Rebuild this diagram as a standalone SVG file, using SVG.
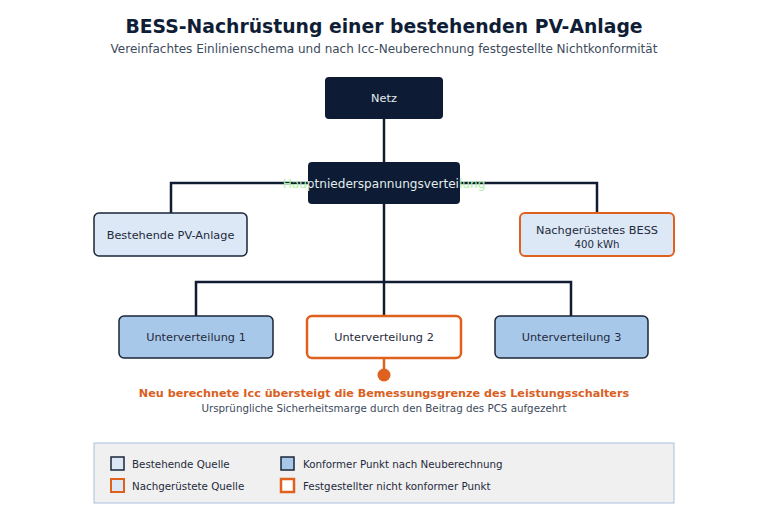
<svg xmlns="http://www.w3.org/2000/svg" width="768" height="529" viewBox="0 0 768 529">
<defs>
<style>
text{font-family:"DejaVu Sans",sans-serif;}
.title{font-size:18.8px;font-weight:bold;fill:#0f1e36;}
.sub{font-size:12px;fill:#3d4a5c;}
.dark{fill:#0d1b34;}
.lbl{font-size:11.3px;fill:#1f2a3c;}
.wl{font-size:11.3px;fill:#e8ecf0;}
.wire{stroke:#101c32;stroke-width:2.5;fill:none;}
.src{fill:#dce8f6;stroke:#1a2638;stroke-width:1.5;}
.retro{fill:#dce8f6;stroke:#e0601e;stroke-width:2;}
.ok{fill:#a8c8ea;stroke:#1a2638;stroke-width:1.5;}
.bad{fill:#ffffff;stroke:#e0601e;stroke-width:2.5;}
.leg{font-size:10.3px;fill:#1f2a3c;}
</style>
<linearGradient id="hg" gradientUnits="userSpaceOnUse" x1="280" y1="0" x2="490" y2="0">
<stop offset="0" stop-color="#a8f0a8"/>
<stop offset="0.1333" stop-color="#a8f0a8"/>
<stop offset="0.1333" stop-color="#e8ecf0"/>
<stop offset="0.8571" stop-color="#e8ecf0"/>
<stop offset="0.8571" stop-color="#a8f0a8"/>
<stop offset="1" stop-color="#a8f0a8"/>
</linearGradient>
</defs>
<rect width="768" height="529" fill="#ffffff"/>
<text class="title" x="384" y="33" text-anchor="middle">BESS-Nachrüstung einer bestehenden PV-Anlage</text>
<text class="sub" x="384" y="53" text-anchor="middle">Vereinfachtes Einlinienschema und nach Icc-Neuberechnung festgestellte Nichtkonformität</text>
<g id="connectors">
<path class="wire" d="M384 119V162"/>
<path class="wire" d="M171 213V183H597V213"/>
<path class="wire" d="M384 204V316"/>
<path class="wire" d="M196 316V282H571V316"/>
<path d="M384 358V375" stroke="#e0601e" stroke-width="2.5"/>
<circle cx="384" cy="375" r="6.5" fill="#e0601e"/>
</g>
<g id="netz">
<rect class="dark" x="325" y="77" width="118" height="42" rx="4"/>
<text class="wl" x="384" y="102" text-anchor="middle">Netz</text>
</g>
<g id="hauptverteilung">
<rect class="dark" x="308" y="162" width="152" height="42" rx="4"/>
<text x="384" y="188" text-anchor="middle" font-size="12.1" fill="url(#hg)">Hauptniederspannungsverteilung</text>
</g>
<g id="pv">
<rect class="src" x="94" y="213" width="153" height="43" rx="5"/>
<text class="lbl" x="170.5" y="239" text-anchor="middle">Bestehende PV-Anlage</text>
</g>
<g id="bess">
<rect class="retro" x="520" y="213" width="154" height="43" rx="5"/>
<text class="lbl" x="597" y="234" text-anchor="middle">Nachgerüstetes BESS</text>
<text x="597" y="248" text-anchor="middle" font-size="10.2" fill="#1f2a3c">400 kWh</text>
</g>
<g id="uv1">
<rect class="ok" x="119" y="316" width="154" height="42" rx="5"/>
<text class="lbl" x="196" y="341" text-anchor="middle">Unterverteilung 1</text>
</g>
<g id="uv2">
<rect class="bad" x="307" y="316" width="154" height="42" rx="5"/>
<text class="lbl" x="384" y="341" text-anchor="middle">Unterverteilung 2</text>
</g>
<g id="uv3">
<rect class="ok" x="495" y="316" width="153" height="42" rx="5"/>
<text class="lbl" x="571.5" y="341" text-anchor="middle">Unterverteilung 3</text>
</g>
<g id="note">
<text x="384" y="397" text-anchor="middle" font-size="11.2" font-weight="bold" fill="#d9601e">Neu berechnete Icc übersteigt die Bemessungsgrenze des Leistungsschalters</text>
<text x="384" y="412" text-anchor="middle" font-size="10.3" fill="#3d4a5c">Ursprüngliche Sicherheitsmarge durch den Beitrag des PCS aufgezehrt</text>
</g>
<g id="legend">
<rect x="94" y="443" width="580" height="60" fill="#f0f0f0" stroke="#a8c0dc" stroke-width="1"/>
<rect class="src" x="111" y="457" width="13" height="13"/>
<text class="leg" x="132" y="467.5">Bestehende Quelle</text>
<rect class="retro" x="111" y="479" width="13" height="13"/>
<text class="leg" x="132" y="489.5">Nachgerüstete Quelle</text>
<rect class="ok" x="281" y="457" width="13" height="13"/>
<text class="leg" x="303" y="467.5">Konformer Punkt nach Neuberechnung</text>
<rect class="bad" x="281" y="479" width="13" height="13"/>
<text class="leg" x="303" y="489.5">Festgestellter nicht konformer Punkt</text>
</g>
</svg>
